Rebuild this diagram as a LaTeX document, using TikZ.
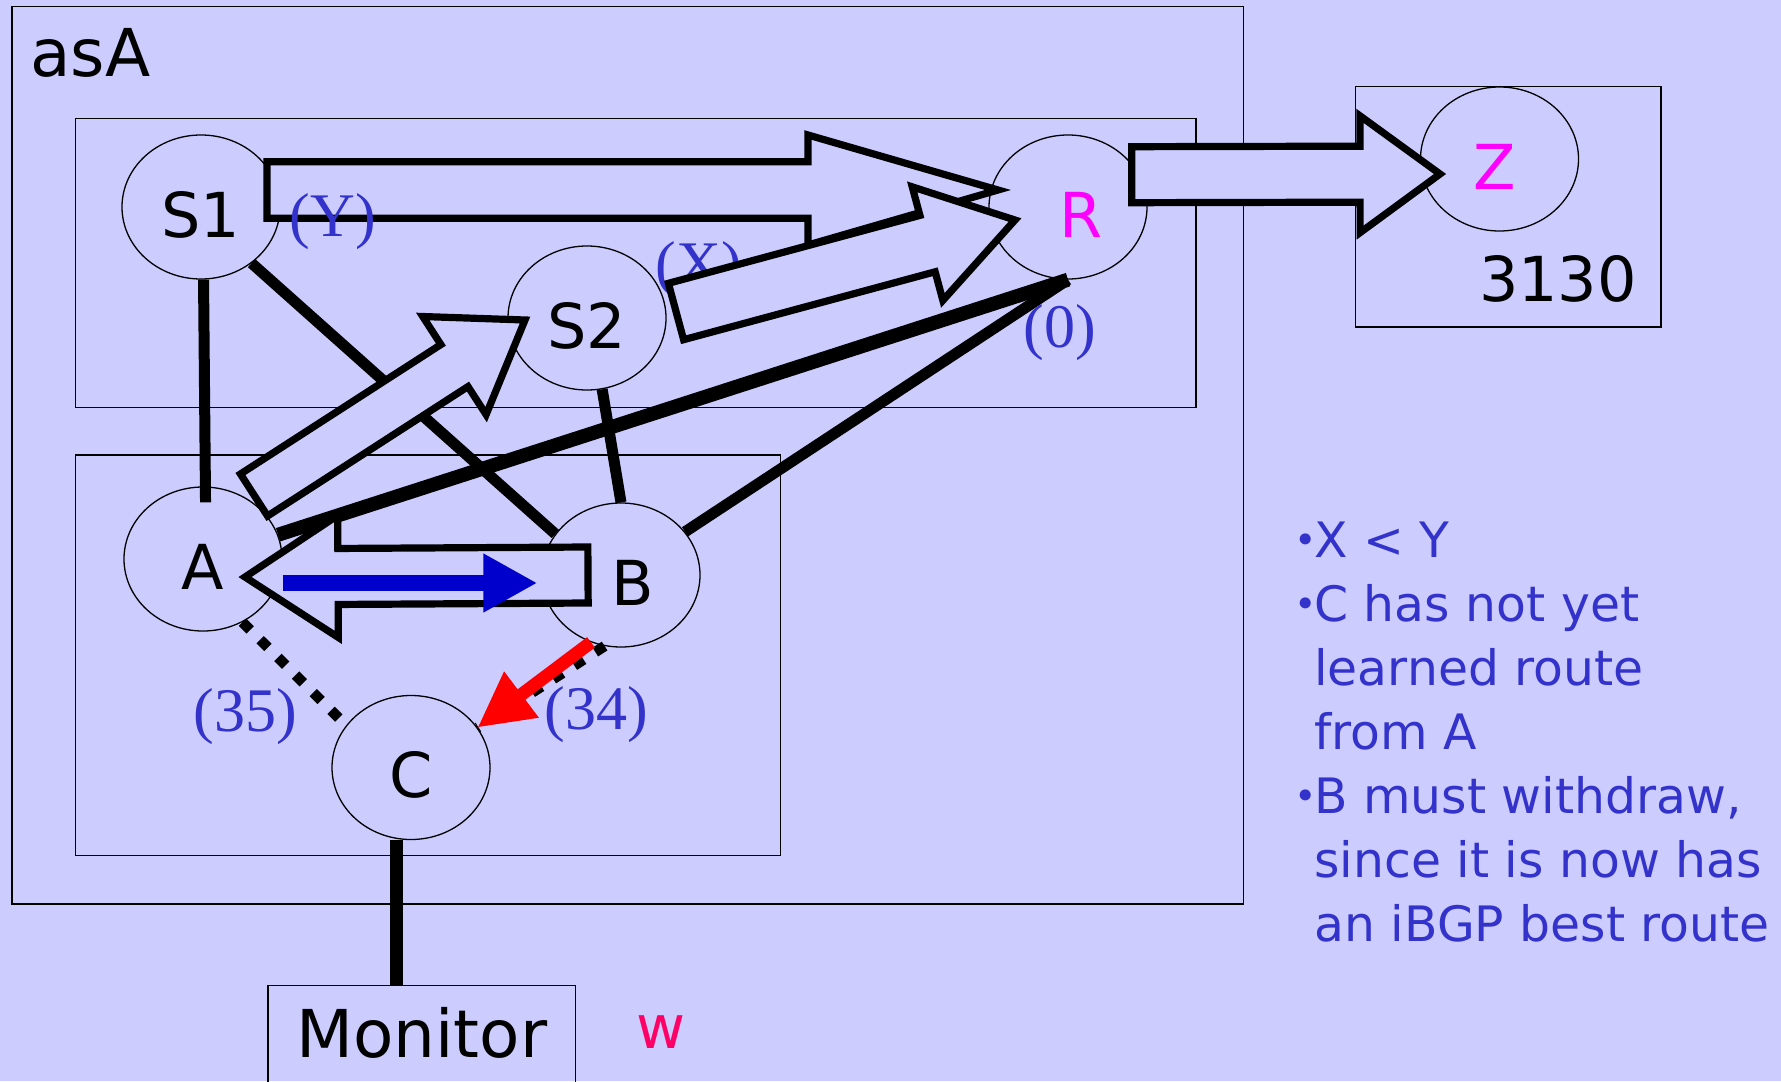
\documentclass[tikz,border=0pt]{standalone}
\usepackage{fontspec}
\setmainfont{DejaVu Sans}
\newfontfamily\tms{Liberation Serif}
\usetikzlibrary{calc,arrows.meta,shapes.geometric}
\definecolor{bg}{HTML}{CCCCFF}
\definecolor{lbl}{HTML}{3333CC}
\definecolor{mag}{HTML}{FF00FF}
\definecolor{wred}{HTML}{FF0066}
\definecolor{blu}{HTML}{0000CC}
\tikzset{
  box/.style={draw=black, line width=0.75pt},
  router/.style={ellipse, draw=black, line width=0.65pt, minimum width=79pt, minimum height=72pt,
    inner sep=0pt, font=\fontsize{31}{31}\selectfont, text height=30pt, text depth=0pt},
  conn/.style={line width=5.5pt},
  dotconn/.style={line width=5.2pt, dash pattern=on 5.5pt off 7pt},
  fat/.style={draw=black, fill=bg, line width=3.6pt, line join=miter},
  paren/.style={font=\tms\fontsize{31}{31}\selectfont, text=lbl, inner sep=0pt},
  note/.style={font=\fontsize{24.4}{30}\selectfont, text=lbl, anchor=base west, inner sep=0pt},
  bigtxt/.style={font=\fontsize{33}{33}\selectfont, inner sep=0pt},
}
\newcommand\fatarr[5]{%
  \coordinate (fah) at ($(#2)!#5!(#1)$);
  \draw[fat] ($(#1)!#3!-90:(#2)$) -- ($(fah)!#3!90:(#1)$) -- ($(fah)!#4!90:(#1)$) -- (#2)
    -- ($(fah)!#4!-90:(#1)$) -- ($(fah)!#3!-90:(#1)$) -- ($(#1)!#3!90:(#2)$) -- cycle;}
\newcommand\bul{\llap{\raisebox{2pt}{\fontsize{19}{19}\selectfont •}\hspace{-1pt}}}
\begin{document}
\begin{tikzpicture}[x=0.5pt,y=-0.5pt]
\useasboundingbox (0,0) rectangle (1781,1081);
\fill[bg] (0,0) rectangle (1781,1081);
% boxes
\draw[box] (12,6.7) rectangle (1243.6,904);
\draw[box] (75.6,118.3) rectangle (1195.8,407.3);
\draw[box] (75.5,454.8) rectangle (780.6,855.6);
\draw[box] (1355.6,86.7) rectangle (1661,327);
\node[bigtxt, anchor=base west] (asA) at (30,76.7) {asA};
% routers
\node[router] (S1) at (201,207) {S1};
\node[router, text=mag] (R) at (1068,207) {\hspace*{13pt}R};
\node[router] (S2) at (587,318) {S2};
\node[router] (A) at (203,559) {A};
\node[router] (B) at (621,575) {\hspace*{12pt}B};
\node[router] (C) at (411,767.5) {C};
\node[router, text=mag] (Z) at (1499.5,159) {Z\hspace*{5pt}};
\node[font=\fontsize{31}{31}\selectfont, inner sep=0pt] (n3130) at (1558,279) {3130};
\node[box, bigtxt, minimum width=153.75pt, minimum height=52.4pt, text height=24pt, text depth=5pt] (Mon) at (421.75,1038) {Monitor};
\node[font=\fontsize{30}{30}\selectfont, text=wred, anchor=base west, inner sep=0pt] (w) at (636,1048) {w};
% links
\draw[conn] (S1.-88) -- ([yshift=-8pt]A.88);
\draw[conn] (S1.-48) -- (B.148);
\draw[conn] (S2.-78) -- (B.north);
\draw[line width=7pt] (R.south) -- (A);
\draw[conn] (R.south) -- (B.34);
\draw[dotconn] (A.-58) -- (C.147);
\draw[dotconn] (B.-103) -- (C.31);
\coordinate (cm) at (396.7,0);
\draw[line width=6.4pt] (C.south -| cm) -- (Mon.north -| cm);
% labels
\node[paren] (lX) at (699,270) {(X)};
\node[paren] (l0) at (1060,333) {(0)};
\node[paren] (l35) at (245,717) {(35)};
\node[paren] (l34) at (596,715) {(34)};
% fat arrows
\coordinate (a1t) at (267,190);   \coordinate (a1h) at (998,190);
\coordinate (a2t) at (676,311.5); \coordinate (a2h) at (1015,220);
\coordinate (a3t) at (254,495);   \coordinate (a3h) at (525,320);
\coordinate (a4t) at (588,575);   \coordinate (a4h) at (245,577);
\coordinate (a5t) at (1131.7,174.7); \coordinate (a5h) at (1440,174);
\fatarr{a1t}{a1h}{14.15pt}{27.5pt}{95pt}
\node[paren] (lY) at (333,221.5) {(Y)};
\fatarr{a3t}{a3h}{12.5pt}{29.2pt}{42pt}
\fatarr{a2t}{a2h}{14.6pt}{29.4pt}{45.3pt}
\fatarr{a4t}{a4h}{14pt}{30.5pt}{46.5pt}
\fatarr{a5t}{a5h}{14pt}{29.2pt}{40pt}
% coloured arrows
\draw[blu, line width=8pt, -{Triangle[length=27pt,width=27.5pt]}] ([yshift=-12pt]A.east) -- ([shift={(-2pt,-4pt)}]B.west);
\draw[red, line width=6.5pt, -{Triangle[length=27.5pt,width=27pt]}] (B.-114) -- (C.31);
% notes
\node[note] (t1) at (1314,557.3) {\bul X < Y};
\node[note] (t2) at (1314,621.7) {\bul C has not yet};
\node[note] (t3) at (1314,685) {learned route};
\node[note] (t4) at (1314,749) {from A};
\node[note] (t5) at (1314,813) {\bul B must withdraw,};
\node[note] (t6) at (1314,877) {since it is now has};
\node[note] (t7) at (1314,941.7) {an iBGP best route};
\end{tikzpicture}
\end{document}
